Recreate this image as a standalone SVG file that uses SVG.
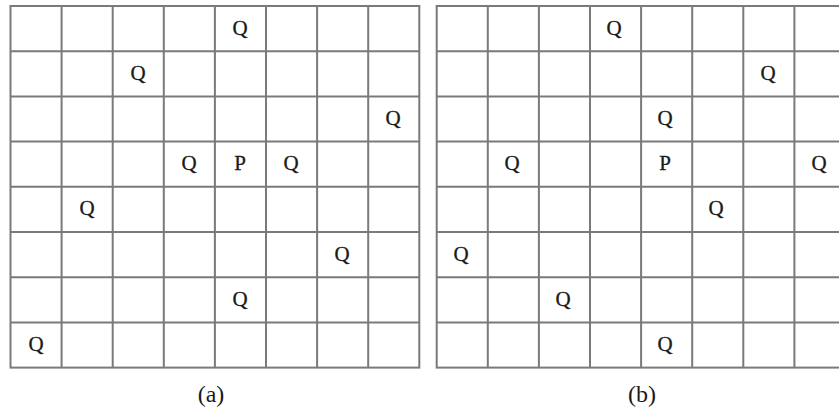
<svg xmlns="http://www.w3.org/2000/svg" width="839" height="412" viewBox="0 0 839 412">
<style>
.g{fill:none;stroke:#7a7a7a;stroke-width:2}
.t{font-family:"Liberation Serif","DejaVu Serif",serif;font-size:21px;fill:#1a1a1a;text-anchor:middle;stroke:#1a1a1a;stroke-width:0.3}
.c{font-family:"Liberation Serif","DejaVu Serif",serif;font-size:24px;fill:#1a1a1a;text-anchor:middle}
</style>
<defs>
<g id="grid">
<rect class="g" x="0" y="0" width="408.8" height="361.6"/>
<path class="g" d="M51.1 0V361.6M102.2 0V361.6M153.3 0V361.6M204.4 0V361.6M255.5 0V361.6M306.6 0V361.6M357.7 0V361.6M0 45.2H408.8M0 90.4H408.8M0 135.6H408.8M0 180.8H408.8M0 226H408.8M0 271.2H408.8M0 316.4H408.8"/>
</g>
</defs>
<g id="board-a">
<use href="#grid" x="10.5" y="6"/>
<g class="t">
<text x="240" y="34.5">Q</text>
<text x="138" y="79.7">Q</text>
<text x="393" y="124.9">Q</text>
<text x="189" y="170.1">Q</text>
<text x="240" y="170.1">P</text>
<text x="291" y="170.1">Q</text>
<text x="87" y="215.3">Q</text>
<text x="342" y="260.5">Q</text>
<text x="240" y="305.7">Q</text>
<text x="36" y="350.9">Q</text>
</g>
<text class="c" x="211" y="402">(a)</text>
</g>
<g id="board-b">
<use href="#grid" x="436.7" y="6"/>
<g class="t">
<text x="614" y="34.5">Q</text>
<text x="768" y="79.7">Q</text>
<text x="665" y="124.9">Q</text>
<text x="512" y="170.1">Q</text>
<text x="665" y="170.1">P</text>
<text x="819" y="170.1">Q</text>
<text x="716" y="215.3">Q</text>
<text x="461" y="260.5">Q</text>
<text x="563" y="305.7">Q</text>
<text x="665" y="350.9">Q</text>
</g>
<text class="c" x="642" y="402">(b)</text>
</g>
<g id="connectors"/>
</svg>
